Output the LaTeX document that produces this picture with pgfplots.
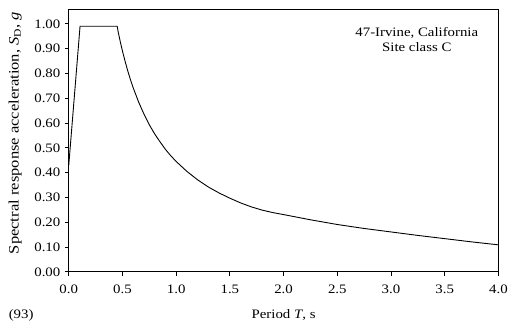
\documentclass[border=0pt]{standalone}
\usepackage{fontspec}
\setmainfont{Liberation Serif}[FakeStretch=1.15]
\usepackage{pgfplots}
\pgfplotsset{compat=1.18}

\begin{document}
\fontsize{13}{15}\selectfont
\begin{tikzpicture}
\path (-69.3pt,-49pt) rectangle (442.7pt,274pt);
\begin{axis}[
  scale only axis,
  width=433pt,
  height=265pt,
  xmin=0, xmax=4,
  ymin=0, ymax=1.06,
  xtick={0,0.5,...,4},
  ytick={0,0.1,...,1.0},
  xticklabel style={yshift=-5pt,/pgf/number format/.cd,fixed,fixed zerofill,precision=1},
  yticklabel style={/pgf/number format/.cd,fixed,fixed zerofill,precision=2},
  /pgf/number format/assume math mode=true,
  tick align=outside,
  xtick pos=bottom,
  ytick pos=left,
  major tick length=4pt,
  tick style={black, line width=0.8pt},
  axis line style={line width=0.8pt},
  xlabel={Period \textit{T}, s},
  ylabel={Spectral response acceleration, \textit{S}\textsubscript{D}, \textit{g}},
  xlabel style={at={(axis description cs:0.5,0)}, anchor=base, yshift=-47pt},
  ylabel style={at={(axis description cs:0,0.528)}, anchor=center, yshift=54pt,
    font=\fontsize{14.5}{16}\selectfont},
  clip=false]
\addplot[black, line width=0.9pt] coordinates {
 (0,0.43) (0.105,0.99) (0.451,0.99) (0.46,0.967) (0.47,0.947) (0.48,0.927)
 (0.5,0.89) (0.525,0.848) (0.55,0.809) (0.575,0.774) (0.6,0.742) (0.65,0.685)
 (0.7,0.636) (0.75,0.593) (0.8,0.556) (0.85,0.524) (0.9,0.494) (0.95,0.468)
 (1.0,0.445) (1.1,0.405) (1.2,0.371) (1.3,0.342) (1.4,0.318) (1.5,0.297)
 (1.6,0.278) (1.7,0.262) (1.8,0.249) (1.9,0.239) (2.0,0.231) (2.25,0.210)
 (2.5,0.191) (2.75,0.175) (3.0,0.161) (3.25,0.147) (3.5,0.134) (3.75,0.121)
 (4.0,0.109)
};
\node[align=center] at (axis cs:3.24,0.936) {47-Irvine, California\\Site class C};
\end{axis}
\node[anchor=base west] at (-65pt,-47pt) {(93)};
\end{tikzpicture}
\end{document}
